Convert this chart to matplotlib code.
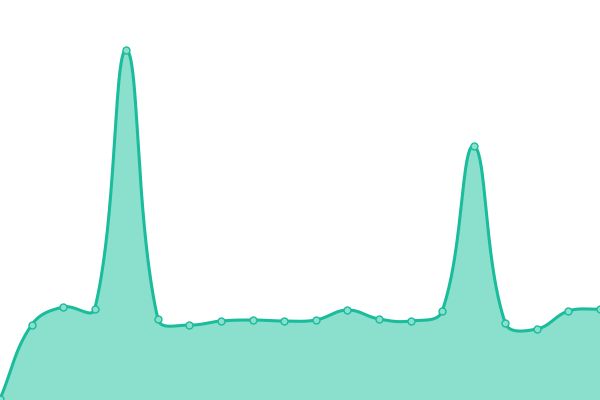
import numpy as np
import matplotlib.pyplot as plt

# values (pixel height above the bottom edge)
idx = list(range(20))
vals = [1, 75, 93, 91, 350, 81, 75, 79, 80, 79, 80, 90, 81, 79, 89, 254, 77, 71, 89, 91]

line_col = '#1abc9c'
fill_col = '#8ae0cd'

W, H = 600, 400
x_scale = W / (len(idx) - 1)


def spline_path(x, y, tension=0.4, steps=40):
    # bezier path through the points, control points as in a chart.js line
    px = np.asarray(x, float) * x_scale
    py = np.asarray(y, float)
    n = len(px)
    cin = np.zeros((n, 2))
    cout = np.zeros((n, 2))
    for i in range(n):
        p = np.array([px[i], py[i]])
        a = np.array([px[max(i - 1, 0)], py[max(i - 1, 0)]])
        b = np.array([px[min(i + 1, n - 1)], py[min(i + 1, n - 1)]])
        d01 = np.hypot(*(p - a))
        d12 = np.hypot(*(b - p))
        s = d01 + d12
        s01 = d01 / s if s else 0
        s12 = d12 / s if s else 0
        cin[i] = p - tension * s01 * (b - a)
        cout[i] = p + tension * s12 * (b - a)
    t = np.linspace(0, 1, steps, endpoint=False)[:, None]
    pts = []
    for i in range(n - 1):
        p0 = np.array([px[i], py[i]])
        p3 = np.array([px[i + 1], py[i + 1]])
        c1, c2 = cout[i], cin[i + 1]
        seg = ((1 - t) ** 3 * p0 + 3 * (1 - t) ** 2 * t * c1
               + 3 * (1 - t) * t ** 2 * c2 + t ** 3 * p3)
        pts.append(seg)
    pts.append([[px[-1], py[-1]]])
    pts = np.vstack(pts)
    return pts[:, 0] / x_scale, pts[:, 1]


sx, sy = spline_path(idx, vals)

fig = plt.figure(figsize=(6, 4), dpi=100)
ax = fig.add_axes([0, 0, 1, 1])
ax.fill_between(sx, sy, 0, color=fill_col, lw=0)
ax.plot(sx, sy, color=line_col, lw=2.2, solid_capstyle='round')
ax.plot(idx, vals, ls='none', marker='o', ms=5, mfc=fill_col, mec=line_col, mew=1)
ax.set_xlim(0, 19)
ax.set_ylim(0, 400)
ax.axis('off')
fig.savefig('out.png', dpi=100)
